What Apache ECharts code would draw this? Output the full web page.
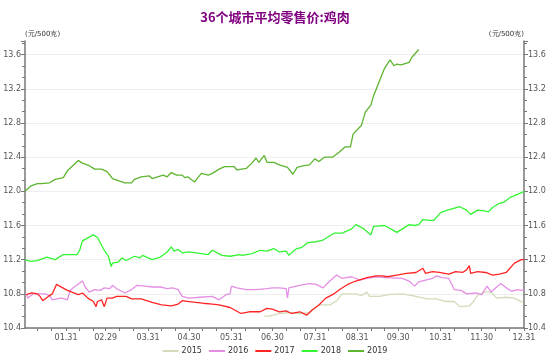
<!DOCTYPE html>
<html><head><meta charset="utf-8">
<script src="https://cdn.jsdelivr.net/npm/echarts@6/dist/echarts.min.js"></script>
<style>html,body{margin:0;padding:0;background:#fff}#c{width:550px;height:362px}</style>
</head><body><div id="c"></div>
<script>
const titleText = '36个城市平均零售价:鸡肉';
const unitText = '(元/500克)';
const seriesNames = ['2015', '2016', '2017', '2018', '2019'];
const seriesColors = ['#d3dbb9', '#e48fe4', '#ff2424', '#33f533', '#5db530'];
const monthLengths = [31, 29, 31, 30, 31, 30, 31, 31, 30, 31, 30, 31];

const d2015 = [175,179,186,193,201,208,215,223,228,232,242,246,250,252,259,266,276,286,294,301,308,314,318,325,327,331,336,341,345,352,358,364];
const v2015 = [10.54,10.54,10.57,10.58,10.57,10.58,10.67,10.67,10.72,10.80,10.80,10.78,10.82,10.77,10.77,10.79,10.80,10.77,10.74,10.74,10.71,10.71,10.65,10.66,10.69,10.78,10.82,10.82,10.75,10.76,10.75,10.70];

const d2016 = [1,2,6,11,15,18,20,23,27,31,33,36,42,44,47,51,55,58,62,64,67,73,78,82,88,93,99,104,108,112,115,120,128,137,142,147,150,151,155,162,169,177,181,186,191,192,193,201,208,213,218,223,228,232,239,245,250,257,264,276,281,285,288,293,298,301,305,310,314,319,323,330,334,338,341,343,348,352,356,360,363,365];
const v2016 = [10.80,10.75,10.80,10.80,10.80,10.78,10.73,10.74,10.75,10.73,10.84,10.88,10.95,10.88,10.82,10.85,10.84,10.87,10.86,10.90,10.86,10.81,10.85,10.90,10.89,10.88,10.88,10.86,10.87,10.85,10.77,10.75,10.76,10.77,10.73,10.79,10.80,10.89,10.87,10.85,10.85,10.86,10.87,10.87,10.86,10.75,10.87,10.90,10.92,10.91,10.87,10.95,11.02,10.98,11.00,10.96,10.98,11.00,10.99,10.98,10.95,10.89,10.94,10.96,10.98,11.01,10.99,10.98,10.85,10.84,10.80,10.81,10.79,10.89,10.82,10.85,10.92,10.87,10.83,10.85,10.84,10.85];

const d2017 = [1,5,9,11,13,17,20,23,31,39,42,46,50,52,53,56,58,60,64,67,74,78,85,89,93,100,107,112,115,120,130,137,142,150,158,164,172,177,181,186,191,195,201,206,210,215,220,226,231,236,242,250,257,261,265,272,279,286,291,293,298,303,310,315,320,323,325,326,331,337,342,347,352,358,363,365];
const v2017 = [10.79,10.81,10.80,10.77,10.72,10.77,10.80,10.91,10.84,10.79,10.81,10.75,10.71,10.65,10.71,10.73,10.65,10.75,10.75,10.77,10.77,10.74,10.74,10.72,10.70,10.67,10.66,10.68,10.72,10.71,10.69,10.68,10.67,10.64,10.57,10.59,10.59,10.63,10.62,10.59,10.60,10.57,10.59,10.55,10.61,10.67,10.75,10.80,10.86,10.91,10.95,10.99,11.01,11.01,11.00,11.02,11.04,11.05,11.10,11.04,11.06,11.05,11.03,11.06,11.05,11.08,11.13,11.04,11.06,11.05,11.02,11.03,11.05,11.16,11.20,11.20];

const d2018 = [0,4,9,16,22,28,38,40,42,50,53,58,61,63,64,68,71,74,80,84,86,93,99,104,107,109,112,115,120,134,137,144,150,157,159,166,172,177,182,186,191,193,197,199,202,207,213,218,226,232,239,242,247,253,255,263,272,281,285,288,291,296,299,304,309,318,323,326,331,336,339,342,347,350,355,364,365];
const v2018 = [11.20,11.18,11.19,11.23,11.20,11.26,11.26,11.31,11.42,11.49,11.46,11.31,11.24,11.12,11.16,11.17,11.22,11.19,11.24,11.22,11.25,11.20,11.23,11.29,11.35,11.30,11.32,11.28,11.29,11.26,11.31,11.25,11.24,11.26,11.25,11.27,11.31,11.30,11.33,11.29,11.30,11.25,11.31,11.33,11.34,11.40,11.41,11.43,11.51,11.51,11.56,11.61,11.57,11.49,11.59,11.60,11.52,11.61,11.60,11.61,11.67,11.66,11.66,11.75,11.78,11.82,11.78,11.73,11.78,11.77,11.76,11.81,11.86,11.87,11.93,11.99,12.00];

const d2019 = [0,4,9,12,18,22,28,31,39,42,47,51,56,60,64,73,78,80,85,91,93,101,104,107,111,115,117,119,124,129,134,137,142,146,153,155,162,166,169,171,175,177,182,186,192,196,199,204,208,212,215,219,225,230,234,238,240,246,249,253,255,259,263,267,270,272,275,281,283,288];
const v2019 = [12.00,12.06,12.09,12.09,12.10,12.14,12.16,12.24,12.36,12.33,12.30,12.26,12.26,12.23,12.15,12.10,12.10,12.14,12.17,12.18,12.15,12.19,12.17,12.22,12.19,12.19,12.16,12.17,12.11,12.21,12.19,12.21,12.26,12.29,12.29,12.25,12.27,12.33,12.39,12.34,12.42,12.34,12.34,12.31,12.28,12.20,12.28,12.30,12.31,12.38,12.35,12.40,12.40,12.46,12.52,12.52,12.67,12.77,12.93,13.01,13.12,13.28,13.44,13.54,13.47,13.49,13.48,13.51,13.57,13.66];

const yMin = 10.4, yMax = 13.76, yStep = 0.4;

// build categories MM.DD for a leap-year calendar
const categories = [];
const monthEnds = new Set();
monthLengths.forEach((len, m) => {
  for (let d = 1; d <= len; d++) {
    categories.push(String(m + 1).padStart(2, '0') + '.' + String(d).padStart(2, '0'));
    if (d === len) monthEnds.add(categories.length - 1);
  }
});
const tickDays = new Set();
categories.forEach((c, i) => {
  const dd = c.slice(3);
  if (dd === '10' || dd === '20' || monthEnds.has(i)) tickDays.add(i);
});

const pairs = (d, v) => d.map((x, i) => [x, v[i]]);
const allDays = [d2015, d2016, d2017, d2018, d2019];
const allVals = [v2015, v2016, v2017, v2018, v2019];

const font = 'Tahoma, "DejaVu Sans", sans-serif';
const yAxisBase = {
  type: 'value', min: yMin, max: yMax, interval: yStep,
  nameTextStyle: { fontSize: 7, color: '#333', fontFamily: font, padding: 0 },
  nameGap: 3,
  axisLine: { show: true, lineStyle: { color: '#777', width: 1.5 } },
  axisTick: { show: true, length: 4, lineStyle: { color: '#777' } },
  minorTick: { show: true, splitNumber: 3, length: 3, lineStyle: { color: '#777' } },
  axisLabel: { fontSize: 8, color: '#555', fontFamily: font, margin: 4, showMaxLabel: false, formatter: v => v.toFixed(1) },
  splitLine: { show: true, showMaxLine: false, lineStyle: { color: '#eeeeee', width: 1 } }
};

const chart = echarts.init(document.getElementById('c'), null, { renderer: 'canvas' });
chart.setOption({
  animation: false,
  backgroundColor: '#fff',
  title: { text: titleText, left: 'center', top: 6, textStyle: { fontSize: 13, fontWeight: 'bold', color: '#800080', fontFamily: '"Noto Sans CJK SC", sans-serif' } },
  grid: { left: 25, right: 26, top: 41, bottom: 34 },
  legend: {
    bottom: 2, left: 'center', itemWidth: 16, itemHeight: 2, itemGap: 7,
    icon: 'rect',
    textStyle: { fontSize: 8, color: '#333', fontFamily: font, padding: [0, 0, 0, -2] },
    data: seriesNames
  },
  xAxis: {
    type: 'category', data: categories, boundaryGap: false,
    axisLine: { lineStyle: { color: '#777', width: 1.5 } },
    axisTick: { show: true, length: 3, interval: i => tickDays.has(i), lineStyle: { color: '#777' } },
    axisLabel: { fontSize: 8, color: '#555', fontFamily: font, margin: 6, interval: i => monthEnds.has(i) },
    splitLine: { show: false }
  },
  yAxis: [
    Object.assign({}, yAxisBase, { position: 'left', name: unitText, nameTextStyle: Object.assign({}, yAxisBase.nameTextStyle, { align: 'left' }) }),
    Object.assign({}, yAxisBase, { position: 'right', name: unitText, nameTextStyle: Object.assign({}, yAxisBase.nameTextStyle, { align: 'right' }) })
  ],
  series: seriesNames.map((n, k) => ({
    name: n, type: 'line', yAxisIndex: 0, showSymbol: false, symbol: 'none',
    data: pairs(allDays[k], allVals[k]),
    lineStyle: { color: seriesColors[k], width: 1.3 },
    itemStyle: { color: seriesColors[k] }
  }))
});
</script></body></html>
